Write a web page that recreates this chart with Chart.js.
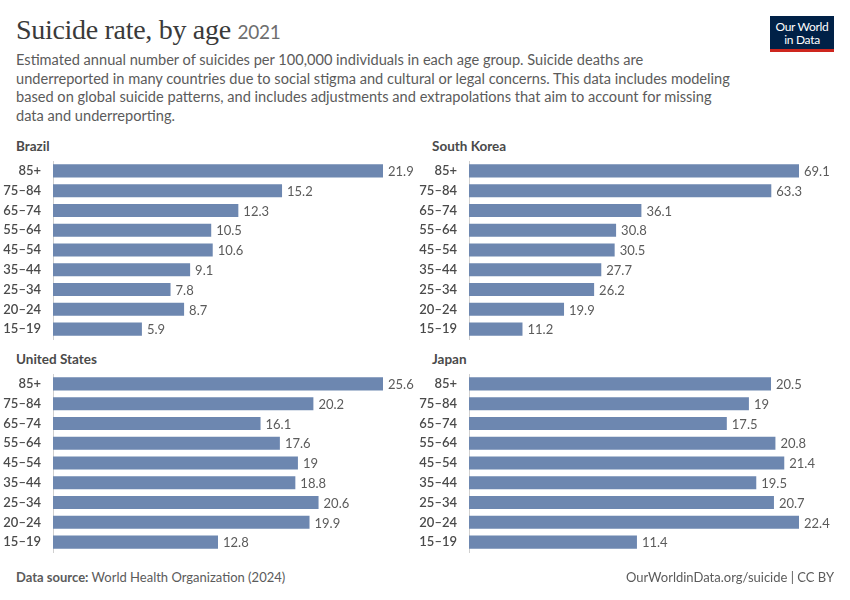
<!DOCTYPE html>
<html>
<head>
<meta charset="utf-8">
<script src="https://cdn.jsdelivr.net/npm/chart.js@4.4.1/dist/chart.umd.min.js"></script>
<style>
  body { margin: 0; width: 850px; height: 600px; background: #fff; font-family: Lato, "Noto Sans", sans-serif; position: relative; overflow: hidden; }
  .title { position: absolute; left: 16px; top: 14px; font-family: "Liberation Serif", "DejaVu Serif", serif; font-size: 28px; color: #3a3a3a; letter-spacing: -0.3px; }
  .title span { font-family: Lato, sans-serif; font-size: 19px; color: #6e6e6e; }
  .subtitle { position: absolute; left: 16px; top: 51px; font-size: 14.6px; line-height: 18.7px; color: #5b5b5b; }
  .logo { position: absolute; left: 770px; top: 16px; width: 64px; background: #002147; border-bottom: 3px solid #ce261e; color: #fff; font-size: 12px; line-height: 13px; text-align: center; padding-top: 4px; height: 29px; letter-spacing: -0.3px; }
  .panel-title { position: absolute; font-size: 13.5px; font-weight: bold; color: #4a4a4a; }
  canvas { position: absolute; }
  .footer { position: absolute; top: 569px; font-size: 13px; color: #5b5b5b; }
  .footer b { font-weight: bold; color: #5b5b5b; }
</style>
</head>
<body>
<div class="title">Suicide rate, by age <span>2021</span></div>
<div class="subtitle">Estimated annual number of suicides per 100,000 individuals in each age group. Suicide deaths are<br>underreported in many countries due to social stigma and cultural or legal concerns. This data includes modeling<br>based on global suicide patterns, and includes adjustments and extrapolations that aim to account for missing<br>data and underreporting.</div>
<div class="logo">Our World<br>in Data</div>

<div class="panel-title" style="left:16px; top:138px;">Brazil</div>
<div class="panel-title" style="left:432px; top:138px;">South Korea</div>
<div class="panel-title" style="left:16px; top:351px;">United States</div>
<div class="panel-title" style="left:432px; top:351px;">Japan</div>

<canvas id="c-brazil" style="left:0px; top:159px;" width="420" height="182"></canvas>
<canvas id="c-korea" style="left:416px; top:159px;" width="424" height="182"></canvas>
<canvas id="c-us" style="left:0px; top:372px;" width="420" height="182"></canvas>
<canvas id="c-japan" style="left:416px; top:372px;" width="424" height="182"></canvas>

<div class="footer" style="left:16px;"><b>Data source:</b> World Health Organization (2024)</div>
<div class="footer" style="right:16px;">OurWorldinData.org/suicide | CC BY</div>

<script>
const ageGroups = ["85+", "75–84", "65–74", "55–64", "45–54", "35–44", "25–34", "20–24", "15–19"];
const brazil = [21.9, 15.2, 12.3, 10.5, 10.6, 9.1, 7.8, 8.7, 5.9];
const southKorea = [69.1, 63.3, 36.1, 30.8, 30.5, 27.7, 26.2, 19.9, 11.2];
const unitedStates = [25.6, 20.2, 16.1, 17.6, 19, 18.8, 20.6, 19.9, 12.8];
const japan = [20.5, 19, 17.5, 20.8, 21.4, 19.5, 20.7, 22.4, 11.4];

const valueLabels = {
  id: "valueLabels",
  afterDatasetsDraw(chart) {
    const ctx = chart.ctx;
    const meta = chart.getDatasetMeta(0);
    ctx.save();
    ctx.font = "13px Lato, sans-serif";
    ctx.fillStyle = "#5b5b5b";
    ctx.textBaseline = "middle";
    meta.data.forEach((bar, i) => {
      ctx.fillText(String(chart.data.datasets[0].data[i]), bar.x + 5, bar.y + 1);
    });
    ctx.restore();
  }
};

function makePanel(id, values, axisWidth, rightPad) {
  new Chart(document.getElementById(id), {
    type: "bar",
    data: {
      labels: ageGroups,
      datasets: [{
        data: values,
        backgroundColor: "#6d87b0",
        borderWidth: 0,
        barPercentage: 0.66,
        categoryPercentage: 1
      }]
    },
    options: {
      indexAxis: "y",
      responsive: false,
      animation: false,
      layout: { padding: { top: 2, bottom: 2, right: rightPad, left: 0 } },
      plugins: { legend: { display: false }, tooltip: { enabled: false } },
      scales: {
        x: { display: false, min: 0, max: Math.max(...values) },
        y: {
          afterFit: scale => {
            scale.width = axisWidth;
            scale.paddingTop = 0;
            scale.paddingBottom = 0;
          },
          grid: { display: false },
          border: { display: true, color: "#d0d0d0" },
          ticks: { color: "#4a4a4a", padding: 4, font: { family: "Lato, sans-serif", size: 13, weight: "600" } }
        }
      }
    },
    plugins: [valueLabels]
  });
}

makePanel("c-brazil", brazil, 53, 37);
makePanel("c-korea", southKorea, 53, 41);
makePanel("c-us", unitedStates, 53, 37);
makePanel("c-japan", japan, 53, 41);
</script>
</body>
</html>
